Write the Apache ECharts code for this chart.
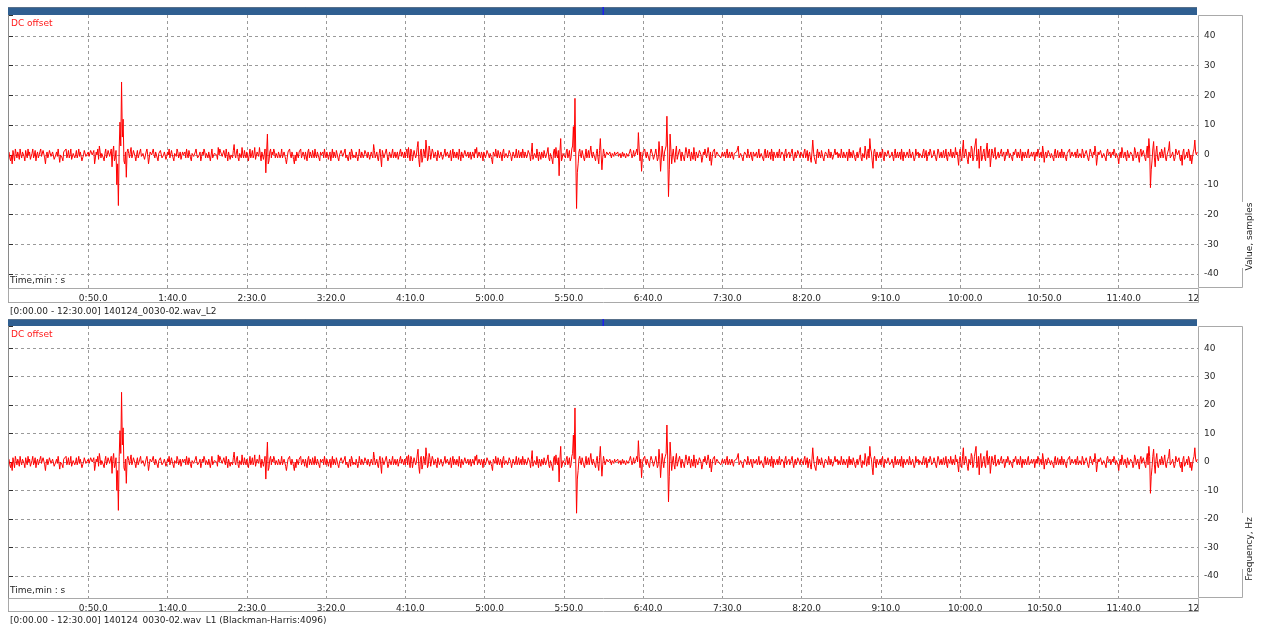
<!DOCTYPE html>
<html>
<head>
<meta charset="utf-8">
<script src="https://cdn.jsdelivr.net/npm/echarts@6/dist/echarts.min.js"></script>
<style>
html,body{margin:0;padding:0;background:#ffffff;}
#chart{width:1263px;height:624px;}
</style>
</head>
<body>
<div id="chart"></div>
<script>
// ---- data ----
const samplePeriodSeconds = 1;           // whole-second values, 0:00 .. 12:29
const samples = [
  1, -2, -3, 1, 2, -1, 0, 2, -1, 1, -2, 0, 2, 1, -1, 2, 0, -2, 1, -1, 2, 0, 1, -3, 1,
  0, 2, -1, 1, -2, 1, 2, -2.5, 0, -2, 1, 2, 0, -1, 2, -2, 1, 0, -1, 2, 1, -2, 0, 1, -1,
  1, -1, 2, 0, -3, 1, 2, 3, -1, 1, -2, 2, 0, 1, -1, -4, 3, -1, -10, -17, 11, 24.5, 12, -3, -7.5,
  2, -1, 2.5, 0, 1, -2, 1.5, 0, 2, -1, 1, -2, 2, -3, 1, 0, 2, -1, 1, -2, 0, 2, -1, 1, -1.5,
  1, 2, -1, 0, -2, 1, 2, -1, 1, -2, 0, 1, 2, -1, 1, -2, 1, 0, 2, -1, 0, -2, 1, 2, -1,
  0, 1, -2, 2, -1, 1, 0, 2.5, 2, 1, -1, 0, 2, -2, 1, 0, -1, 3.5, -1, 2, -2, 1, 2.5, -1, 0,
  1, -2, 2, 0, -1, 2.5, -2, 1, 2.5, -2, 1, -1, -6, 7, -2, 2, 1, 2, -1, 0, 1, -1, 2, -1, 1,
  -3, 1, 2, -1, 0, -3, -2, 1, 1, 2, -1, 0, 1, -2, 2, 1, -1, 0, 2, -1, 1, -2, 0, 1, 2,
  -1, 1, 0, -2, 2, 1, -1, 2, -2, 0, 1, -1, 2, 0, -2, 1, 2, -1, 0, 1, -2, 2, -1, 1, 0,
  2, -1, 1, -2, 0, 3.5, -1, 1, -2, 2, -4, 1, 0, 2, -2, 1, -1, 2, 0, -1, 1, -2, 2, 1, -1,
  -1, 2, 2.5, -2, 1, -2, 2, 0, 4.5, -4, 2, -1, 1, 5, -2, 3, -1.5, 2, -1, 1, -2, 2, 0, 1, -1,
  2, -1, 1, 0, -2, 2, 1, -1, 0, 2, -2, 1, -1, 2, 0, -1, 1, -2, 1, 2, 2.5, -1, 0, 1, -2,
  1, 0, 2, -1, 1, -3, 1, 2, -1, 0, 1, -2, 2, -1, 1, 0, 2, -2, 1, -1, 2, 0, -1, 1, 2,
  -1, 1, 0, 2, -2, 4, -1, 1, 2, -2, 0, 1, -1, 2, 0, 2.5, -2, 1, -3, 2, 2.5, -1, -7, 5.5, -1,
  1, -1, 2, 0, -2, 2, 9.5, 19, -18, -3, 2, -1, 1, -2, 2, 0, -1, 3, -1, 1, -2, 2, -3, 5.5, -5,
  2, -1, 1, 0, 1, -1, 0.5, 1, -0.5, 1, 0, -1, 1, 0.5, -1, 1, 0, 2, -1, 1.5, -1, 2, 7.5, -2, -5.5,
  1, 2, -1, 1, -2, 2, 0, -1, 2, -2, 4.5, -5.5, 3, -2, 2, 13, -14, 7, -3, 2, -2.5, 3, -1, 2, -2,
  1, -2, 2.5, -1, 2, -2, 1, 2.5, -2, 1, -1, 2, -2.5, 1, 2, -1, 2.5, -2, -3.5, 1, 2, -1, 1, 0, -1,
  1, 0, -1, 2, 0, -1, 1, -1.5, 0.5, 1, 3, -1, 1, -2, 1, 0, 2, -1, 1, -2, 1.5, 0, -1, 2, -1,
  1, -2, 2, 0, -1, 1, 2, -2, 1, 0, -1, 2, -1, 1, -2, 2, 0, 1, -1, 2, -2, 1, 0, 2, -1,
  1, -1, 2, 0, -2, 1, -2.5, 5, -1, -3, 2, 1, -1, 2, -2, 1, 0, 2, -1, 1, -2, 2, 0, -1, 1,
  2, -1, 1, 0, -2, 2, 1, -1, 2, -2, 1, 0, 2.5, -2, 1, 3, -1.5, 2, 5.5, 1, -4.5, 2, -2, 1, 0,
  -1, 2, -2, 1, 0, 2, -1, 1, -2, 2, 0, -1, 1, 2, -2, 1, -1, 0, 2, -1, 1, -2, 2, 0, -1,
  1, -1, 2, 0, -2, 1, 2, -1, 0, 1, -2, 2, -1, 1, 0, -1, 2, -2, 1, 2, -1, 0, 2.5, 1, -3.5,
  2, -2, 5, -1, 2, -3, 1, 3, -2, 2, 5.5, -1, -4.5, 3, -1, 2, -2, 4, 1, -4, 2, -1, 2.5, -2, 1,
  -1, 2, 0, -2, 1, 2, -1, 1, -2, 0, 2, -1, 1, 2, -2, 0, 1, -1, 2, -1, 1, 0, -2, 1, 2,
  -1, 1, 3, -2.5, 1, 0, 2, -1, 1, -2, 2, 0, -1, 1, 2, -1, 0, -2, 1, 2, -1, 1, 0, -1, 2,
  -1, 1, 2, -1, 0, 1, -2, 2, 0, 1, 3, -3.5, 1, 0, 2, -1, 1, -2, 2, 0, -1, 1, 2, -1, 0,
  -3, 1, 2.5, -1, 1, -2, 2, 0, 1, -2, 2.5, -1, 1, -2.5, 2, 0, 2, -2, 3, 5.5, -11, -2, 4.5, -4, 3,
  -2, 1, 2, -1, 2.5, -2, 1, 4.5, -1, 1, -2, 2, 0, 1.5, -2, -3.5, 2, -1, 1, 2, -2, -3, 1, 5, 0
];
// values at the half-second between consecutive whole-second samples
const samplesHalf = [
  -1, 0, 1.5, -2, 0.5, 1, -1.5, 0, 1, -0.5, 1.5, -1, 0, -1.5, 0.5, -1, 1.5, 0, -1, 1, -0.5, 1.5, -1, 0, -1,
  1.5, -0.5, 1, -1.5, 0, -0.5, 1.5, 0, -1, 1, 0.5, -1, 1.5, 0, -1.5, 0.5, -1, 1.5, 0, -0.5, 1, -1, 1.5, -0.5, 0,
  -0.5, 1.5, 0, 1.5, -1, 0, -1.5, 1, 0.5, -1, 0.5, -1, 1.5, -0.5, 2, 1, -2, 1.5, -3, 2, 3, 6, -2, 1, 1,
  0.5, 1, -1, 1.5, -0.5, 0, -1, 1, -0.5, 0.5, -1.5, 1, 0, -1, 1.5, -0.5, 0, 1, -1, 0.5, 1.5, -1, 0, 1, -0.5,
  0, -1, 1.5, -1, 0.5, -0.5, 1, 0, -1.5, 1, 0.5, -1, 0, 1.5, -1, 0.5, -0.5, 1, 0, -1.5, 1, -0.5, 0, 1, 0.5,
  -1, 1.5, 0, -1, 0.5, 1, -1.5, 0, 1, -0.5, 1.5, -1, 0, 1, -1.5, 0.5, 1.5, 0, 1, -1, 0.5, -1, 0, 1.5, -1,
  0.5, 0, -1, 1.5, 0, -1.5, 1, -0.5, 0, 1, -1.5, 2, 1, -3, 1, -1, 0, 1, 0.5, -1, 1.5, 0, -1, 1, -1.5,
  -1, 1.5, 0, 1, -1.5, 0, 1, -1, 0.5, -1, 1, -1.5, 0.5, 1, -1, 0, 1.5, -1, 0, 1, -1, 1, 0.5, -1, 0,
  1, -1.5, 1, 0, -1, 0.5, 1.5, -1, 0, 1.5, -0.5, 1, -1, 0.5, 0, -1.5, 1, 0, -1, 1.5, -0.5, 0, 1, -1, 1.5,
  0, 1, -1.5, 1, -1, 1.5, 0, -1, 0.5, -1, 1.5, -1, 1, 0, -1, 1.5, 0.5, -1, 1, 0, -1.5, 1, -0.5, 0, 1,
  1, -1, 0, 2, -2, 1.5, -1, 2.5, -1.5, 1, -2.5, 2, -1, 2, -1, 1.5, -2, 1, 0, -1, 1.5, -1, 1, -1.5, 0.5,
  -0.5, 1, -1, 1.5, 0, -1, 0.5, 1, -1.5, 0, 1, -1, 1.5, -0.5, 1, 0, -1.5, 1, -1, 0.5, -1, 1, -1, 0, 1,
  -1, 1.5, 0, 0.5, -1.5, 1, -0.5, 0, 1.5, -1, 0, 1, -1, 0.5, -1, 1.5, 0, -0.5, 1, 0, -1, 1.5, 0, -1, 0.5,
  1, -1, 1.5, 0, 1, -1.5, 0.5, -1, 0, 1, -1.5, 0, 1.5, -1, 1, -1, 0.5, -1.5, 1, -1, 0, 1.5, 1, -2, 0.5,
  0, 1, -1, 1.5, -1, 3, 1, 0, -6, 1, 0, 1.5, -1, 0, -1, 1.5, 1, 0, 1, -1, 0.5, -1, 1.5, 0, -1,
  0.5, 0, 0.5, -0.5, 0, 0.5, -0.5, 0, 0.5, -0.5, 0.5, 0, -0.5, 0, 0.5, -0.5, 1, 0.5, 0, -0.5, 1, 0, 2, 1, -1,
  0.5, 0, 1, -1, 0.5, 1, -1.5, 0.5, 0, -1, 1, -1, 0, 1, 3, 1, -5, 2, 0, -1, 1, -1.5, 1, 0, 1,
  -1, 0.5, 1, -1.5, 0, 1, -1.5, 0, 1, -1, 1.5, 0, -1, 0, 1.5, -1, 0.5, 1, -1, 0.5, -1, 1, 0, 0.5, 0,
  -0.5, 1, 0.5, -1, 1, 0, -0.5, 0.5, 0, 1.5, -1, 0.5, -1, 0, 1, -1, 0.5, 0, -1, 1, -0.5, 1, 0, -1, 0.5,
  0, 1, -1, 1.5, 0, -1.5, 0.5, 1, -1, 1, 0.5, -1, 1, 0, 1, -1, 0.5, -1, 1, -0.5, 0, -1, 1.5, 0, 1,
  0, 1, -1, 1.5, 0, -1, 1, 1, -1, 0.5, -1, 0, 1.5, -1, 0, 1, -1, 0.5, 1, -1.5, 0.5, 0, 1, 0.5, -1,
  0, 1, -1, 1, 0, -1, 0.5, 1.5, -1, 0, -1, 1.5, -1, 0.5, -1, 1, 0.5, -1, 2, -2, 1, 0, 1, -1, 1,
  0.5, -1, 1, -0.5, 1.5, -1, 0, 1, 0.5, -1, 1, 0, -1.5, 0, 1, -1, 1, -1, 0.5, 0, 1.5, -1, 0, 1, 0.5,
  0, 1, -1, 1.5, -0.5, 0, 1, -1, 1.5, -1, 0, 1, 0, -1, 1.5, 0, -1, 1, -0.5, 0, 1, -1, 0, -1, 1,
  -1, 2, -1, 2, -1.5, 1, -1, 2, -1, 1.5, -2, 2, 1, -2, 1, -1, 2, -1, 2, -1, 0.5, 1, -1.5, 0, -1,
  1, -0.5, 1, -1, 0, 1, 0.5, -1, 1, -0.5, 0, 1, -1, 0, 1, -1, 0.5, 1, -1, 0, -0.5, 1, 0, -0.5, 1,
  0, -1, 1, 0, -1, 1.5, 0, 0.5, -1, 1, -1, 1.5, 0, -1, 0.5, 1, -1, 0.5, 0, -1, 1, -0.5, 1, 0.5, -1,
  0.5, -1, 1, 0, 1.5, -1, 0, 1, -1, 0, 1, -1, 0, 1.5, -1, 0.5, -1, 1, 0, 1, -1, 0, 1, 0.5, -1,
  0, -1, 1, 0, -1, 1.5, -1, 1, 0, -1, 1.5, 0, -1, 1, -0.5, 1.5, -1, 1, -1, 2, -5, 2, -1, 1, -1,
  0, -1, 1, 0.5, -1, 0, 2, -1, 0, 1, -1, 1, 0, -1, 0, 1, -1.5, 0, -1, 1, 0, -1, 2, 1, 1
];
const xTickLabels = ['', '0:50.0', '1:40.0', '2:30.0', '3:20.0', '4:10.0', '5:00.0', '5:50.0',
  '6:40.0', '7:30.0', '8:20.0', '9:10.0', '10:00.0', '10:50.0', '11:40.0', '12'];
const xTickStepSeconds = 50;
const xRangeSeconds = [0, 750];
const yTickStep = 10;
const panelTitles = ['DC offset', 'DC offset'];
const yAxisNames = ['Value, samples', 'Frequency, Hz'];
const xAxisName = 'Time,min : s';
const captions = ['[0:00.00 - 12:30.00] 140124_0030-02.wav_L2',
  '[0:00.00 - 12:30.00] 140124_0030-02.wav_L1 (Blackman-Harris:4096)'];
const yRanges = [[-44.7, 47], [-47.8, 47.8]];

// ---- layout ----
const FONT = '"DejaVu Sans", sans-serif';
const PL = 9, PR = 1198, BOXR = 1243;
const panels = [
  {barTop: 7, plotTop: 15, plotBottom: 288, boxBottom: 303, gap: [202, 268], nameY: 236.5},
  {barTop: 319, plotTop: 326, plotBottom: 598, boxBottom: 612, gap: [513, 569], nameY: 549}
];

const points = [];
samples.forEach((v, i) => {
  points.push([i * samplePeriodSeconds, v]);
  points.push([(i + 0.5) * samplePeriodSeconds, samplesHalf[i]]);
});

const grids = [], xAxes = [], yAxes = [], series = [], graphics = [];
const gray = '#a9a9a9';

panels.forEach((p, k) => {
  grids.push({left: PL, width: PR - PL, top: p.plotTop, height: p.plotBottom - p.plotTop,
    containLabel: false, outerBoundsMode: 'none'});
  xAxes.push({
    gridIndex: k, type: 'value', min: xRangeSeconds[0], max: xRangeSeconds[1], interval: xTickStepSeconds,
    axisLine: {show: false}, axisTick: {show: false},
    splitLine: {show: true, showMinLine: false, showMaxLine: false,
      lineStyle: {color: '#9a9a9a', width: 1, type: [3, 3]}},
    axisLabel: {
      show: true, margin: 6, showMinLabel: true, showMaxLabel: true,
      formatter: v => {
        const lab = xTickLabels[Math.round(v / xTickStepSeconds)] || '';
        if (!lab) return '';
        return v >= xRangeSeconds[1] ? '{c|' + lab + '}' : '{a|' + lab + '}';
      },
      rich: {
        a: {padding: [0, 0, 0, 10], fontSize: 9, fontFamily: FONT, color: '#1e1e1e'},
        c: {padding: [0, 9, 0, 0], fontSize: 9, fontFamily: FONT, color: '#1e1e1e'}
      }
    }
  });
  yAxes.push({
    gridIndex: k, type: 'value', position: 'right', min: yRanges[k][0], max: yRanges[k][1],
    splitNumber: 9,
    axisLine: {show: false},
    axisTick: {show: true, length: 4, lineStyle: {color: '#303030', width: 1}},
    splitLine: {show: true, showMinLine: false, showMaxLine: false,
      lineStyle: {color: '#9a9a9a', width: 1, type: [3, 3]}},
    axisLabel: {
      margin: 6, fontSize: 9, fontFamily: FONT, color: '#2a2a2a',
      formatter: v => (Math.abs(v / yTickStep - Math.round(v / yTickStep)) < 1e-6 ? String(Math.round(v)) : '')
    }
  });
  series.push({
    type: 'line', xAxisIndex: k, yAxisIndex: k, data: points, showSymbol: false, symbol: 'none',
    lineStyle: {color: '#ff0000', width: 1}, itemStyle: {color: '#ff0000'},
    animation: false, clip: true, z: 3
  });

  // header bar with cursor marker
  graphics.push({type: 'rect', z: 20, shape: {x: 8, y: p.barTop, width: PR - 1 - 8, height: p.plotTop - p.barTop},
    style: {fill: '#2f5f91'}});
  graphics.push({type: 'line', z: 21, shape: {x1: 8, y1: p.barTop + 0.5, x2: PR - 1, y2: p.barTop + 0.5},
    style: {stroke: '#58708a', lineWidth: 1}});
  graphics.push({type: 'rect', z: 22, shape: {x: 602.5, y: p.barTop, width: 1.5, height: p.plotTop - p.barTop},
    style: {fill: '#1f1fee'}});
  // left border
  graphics.push({type: 'line', z: 20, shape: {x1: 8.5, y1: p.plotTop, x2: 8.5, y2: p.boxBottom},
    style: {stroke: '#8a8a8a', lineWidth: 1}});
  // x-axis box
  graphics.push({type: 'rect', z: 20, shape: {x: 8.5, y: p.plotBottom + 0.5, width: PR - 8, height: p.boxBottom - p.plotBottom - 1},
    style: {fill: null, stroke: gray, lineWidth: 1}});
  // right axis box
  const segs = [
    [PR + 0.5, p.plotTop + 0.5, BOXR - 0.5, p.plotTop + 0.5],
    [PR + 0.5, p.plotTop + 0.5, PR + 0.5, p.plotBottom - 0.5],
    [PR + 0.5, p.plotBottom - 0.5, BOXR - 0.5, p.plotBottom - 0.5],
    [BOXR - 0.5, p.plotTop + 0.5, BOXR - 0.5, p.gap[0]],
    [BOXR - 0.5, p.gap[1], BOXR - 0.5, p.plotBottom - 0.5]
  ];
  segs.forEach(s => graphics.push({type: 'line', z: 20,
    shape: {x1: s[0], y1: s[1], x2: s[2], y2: s[3]}, style: {stroke: gray, lineWidth: 1}}));
  // texts
  graphics.push({type: 'text', z: 25, x: 11, y: p.plotTop + 8.5,
    style: {text: panelTitles[k], fill: '#ff1a1a', fontSize: 9, fontFamily: FONT,
      align: 'left', verticalAlign: 'middle', textAlign: 'left', textVerticalAlign: 'middle'}});
  graphics.push({type: 'text', z: 25, x: 10, y: p.plotBottom - 7.5,
    style: {text: xAxisName, fill: '#1e1e1e', fontSize: 9, fontFamily: FONT,
      align: 'left', verticalAlign: 'middle', textAlign: 'left', textVerticalAlign: 'middle'}});
  graphics.push({type: 'text', z: 25, x: 10, y: p.boxBottom + 9,
    style: {text: captions[k], fill: '#1e1e1e', fontSize: 9, fontFamily: FONT,
      align: 'left', verticalAlign: 'middle', textAlign: 'left', textVerticalAlign: 'middle'}});
  graphics.push({type: 'text', z: 25, x: 1250, y: p.nameY, rotation: Math.PI / 2,
    style: {text: yAxisNames[k], fill: '#1e1e1e', fontSize: 9, fontFamily: FONT,
      align: 'center', verticalAlign: 'middle', textAlign: 'center', textVerticalAlign: 'middle'}});
});

const chart = echarts.init(document.getElementById('chart'), null, {renderer: 'canvas', width: 1263, height: 624});
chart.setOption({
  animation: false,
  backgroundColor: '#ffffff',
  grid: grids,
  xAxis: xAxes,
  yAxis: yAxes,
  series: series,
  graphic: {elements: graphics}
});
</script>
</body>
</html>
